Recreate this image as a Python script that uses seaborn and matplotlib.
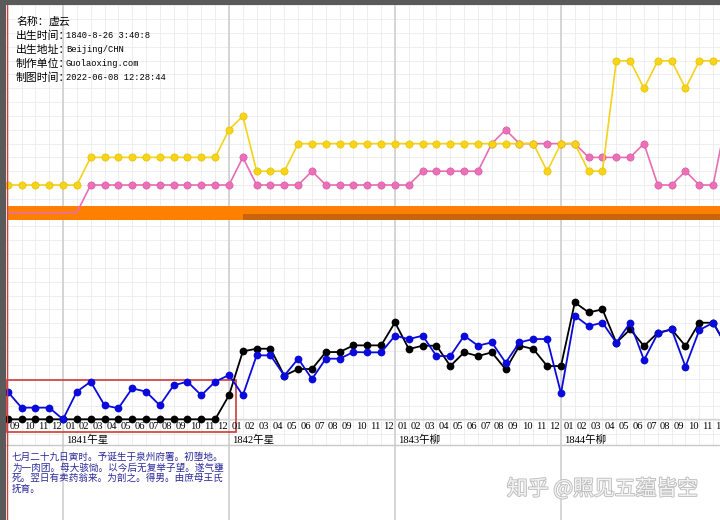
import numpy as np
import pandas as pd
import matplotlib
matplotlib.use("Agg")
import matplotlib.pyplot as plt
import matplotlib.patheffects as pe
from matplotlib.patches import Rectangle
import seaborn as sns

sns.set_theme(style="white")
plt.rcParams["font.family"] = ["Noto Sans CJK SC", "DejaVu Sans"]

# ---------------- data ----------------
month_labels = ["09", "10", "11", "12"] + ["01", "02", "03", "04", "05", "06",
                                           "07", "08", "09", "10", "11", "12"] * 4
year_labels = ["1841午星", "1842午星", "1843午柳", "1844午柳"]
year_index = [4, 16, 28, 40]

yellow = [0, 0, 0, 0, 0, 0,
          2, 2, 2, 2, 2, 2, 2, 2, 2, 2,
          4, 5, 1, 1, 1,
          3, 3, 3, 3, 3, 3, 3, 3, 3, 3, 3, 3, 3, 3, 3, 3, 3, 3,
          1, 3, 3, 1, 1,
          9, 9, 7, 9, 9, 7, 9, 9, 9]
pink = [-2, -2, -2, -2, -2, -2,
        0, 0, 0, 0, 0, 0, 0, 0, 0, 0, 0,
        2, 0, 0, 0, 0, 1,
        0, 0, 0, 0, 0, 0, 0,
        1, 1, 1, 1, 1,
        3, 4, 3, 3, 3, 3, 3,
        2, 2, 2, 2,
        3, 0, 0, 1, 0, 0, 5]
blue = [8.3, 3.5, 3.5, 3.5, 0, 8.3, 11.3, 4.2, 3.3, 9.3,
        8.3, 4.2, 10.2, 11.3, 7.2, 11.3, 13.3, 7.2, 19.2, 19.2,
        13.1, 18.2, 12.1, 18.2, 18.2, 20.2, 20.1, 20.1, 25.1, 24.1,
        25.1, 19.0, 19.0, 25.1, 22.1, 23.1, 17.0, 23.1, 24.1, 24.1,
        7.8, 31.1, 28.0, 29.0, 23.0, 29.0, 17.8, 25.8, 27.0, 15.8,
        26.8, 29.0, 21.7]
black = [0, 0, 0, 0, 0, 0, 0, 0, 0, 0, 0, 0, 0, 0, 0, 0,
         7.2, 20.4, 21.2, 21.2, 13.1, 15.1, 15.1, 20.2, 20.2, 22.2,
         22.2, 22.2, 29.1, 21.1, 22.1, 22.1, 16.0, 20.1, 19.0, 20.1,
         15.0, 22.1, 21.1, 16.0, 16.0, 35.1, 32.1, 33.0, 23.0, 27.0,
         22.0, 26.0, 27.0, 22.0, 29.0, 29.0, 21.7]
idx = np.arange(len(yellow))

# luck-period bands (start index)
band_start = [0, 17]

info_labels = ["名称：", "出生时间：", "出生地址：", "制作单位：", "制图时间："]
info_values = ["虚云", "1840-8-26 3:40:8", "Beijing/CHN", "Guolaoxing.com",
               "2022-06-08 12:28:44"]
note_lines = ["七月二十九日寅时。予诞生于泉州府署。初堕地。",
              "为一肉团。母大骇恸。以今后无复举子望。遂气壅",
              "死。翌日有卖药翁来。为剖之。得男。由庶母王氏",
              "抚育。"]
watermark = "知乎 @照见五蕴皆空"

# ---------------- figure ----------------
W, H = 720, 520
fig = plt.figure(figsize=(7.2, 5.2), dpi=100)
fig.patch.set_facecolor("white")
XL = (-7.67 / 13.833, (720 - 7.67) / 13.833)

# background (grid, year separators) : x in index units, y in pixels
ax_bg = fig.add_axes([0, 0, 1, 1], zorder=0)
ax_bg.set_xlim(*XL)
ax_bg.set_ylim(H, 0)
ax_bg.axis("off")
for gx in np.arange(-1, 53, 1.0):
    ax_bg.plot([gx, gx], [4, 445], color="#ebebeb", lw=0.6, zorder=0)
for gy in np.arange(185 % 13.833, 445, 13.833):
    ax_bg.plot([XL[0], XL[1]], [gy, gy], color="#ebebeb", lw=0.6, zorder=0)
for yi in year_index:
    ax_bg.plot([yi, yi], [4, H], color="#cccccc", lw=1.1, zorder=1)
ax_bg.plot([XL[0], XL[1]], [445, 445], color="#c8c8c8", lw=1.0, zorder=1)

# top panel
ax_top = fig.add_axes([0, 1 - 230 / H, 1, 230 / H], zorder=2)
ax_top.set_xlim(*XL)
ax_top.set_ylim((185 - 230) / 13.8, 185 / 13.8)
ax_top.patch.set_alpha(0)
ax_top.axis("off")
ax_top.fill_between([band_start[0] - 0.03, 60], -2.52, -1.52,
                    facecolor="#ff8000", edgecolor="none", lw=0, zorder=1)
ax_top.fill_between([band_start[1], 60], -2.52, -2.07,
                    facecolor="#c8650c", edgecolor="none", lw=0, zorder=1.5)
sns.lineplot(x=idx, y=pink, ax=ax_top, color="#e86db4", lw=1.2,
             marker="o", markersize=5.2, markerfacecolor="#ec70b8",
             markeredgecolor="#d85ca4", markeredgewidth=0.5,
             markevery=list(range(6, len(pink))), zorder=3)
sns.lineplot(x=idx, y=yellow, ax=ax_top, color="#f5d21c", lw=1.2,
             marker="o", markersize=5.2, markerfacecolor="#f8d418",
             markeredgecolor="#e8c000", markeredgewidth=0.5, zorder=4)

# bottom panel
ax_bot = fig.add_axes([0, 0, 1, 290 / H], zorder=2)
ax_bot.set_xlim(*XL)
ax_bot.set_ylim((419.3 - 520) / 3.33, (419.3 - 230) / 3.33)
ax_bot.patch.set_alpha(0)
ax_bot.axis("off")
ax_bot.axhline(0, color="#d4d4d4", lw=1.0, zorder=1)
ax_bot.add_patch(Rectangle((-0.03, -3.7), 16.53, 15.5, fill=False,
                           edgecolor="#d03a3a", lw=1.2, zorder=2))
sns.lineplot(x=idx, y=black, ax=ax_bot, color="black", lw=1.3,
             marker="o", markersize=5.6, markeredgewidth=0, zorder=3)
sns.lineplot(x=idx, y=blue, ax=ax_bot, color="#0a0adc", lw=1.3,
             marker="o", markersize=5.6, markeredgewidth=0, zorder=4)

for i, lab in enumerate(month_labels):
    ax_bot.text(i + 0.16, -2.16, lab, fontsize=7.6, va="center", ha="left",
                family=["Liberation Serif", "Noto Sans CJK SC"], color="black",
                zorder=5)
for yi, lab in zip(year_index, year_labels):
    ax_bot.text(yi + 0.2, -6.3, lab, fontsize=7.6, va="center", ha="left",
                family=["Liberation Serif", "Noto Sans CJK SC"], color="black")

# overlay in pixel coords: frame & texts
ax_px = fig.add_axes([0, 0, 1, 1], zorder=3)
ax_px.set_xlim(0, W)
ax_px.set_ylim(H, 0)
ax_px.patch.set_alpha(0)
ax_px.axis("off")
ax_px.add_patch(Rectangle((0, 0), 6, H, color="#5a5a5a", lw=0))
ax_px.add_patch(Rectangle((0, 0), W, 4.5, color="#5a5a5a", lw=0))
ax_px.plot([6.6, 6.6], [4.5, H], color="#cc4040", lw=1.0)

for k, (lab, val) in enumerate(zip(info_labels, info_values)):
    yy = 22 + 13.9 * k
    ax_px.text(16, yy, lab, fontsize=7.8, va="center", ha="left", color="black")
    if k == 0:
        ax_px.text(16 + 3 * 10.8, yy, val, fontsize=7.8, va="center",
                   ha="left", color="black")
    else:
        ax_px.text(66, yy, val, fontsize=6.3, va="center", ha="left",
                   family=["Liberation Mono"], color="black")

for k, line in enumerate(note_lines):
    ax_px.text(12, 456.7 + 10.8 * k, line, fontsize=6.9, va="center",
               ha="left", color="#2a2a9a")

ax_px.text(507, 489, watermark, fontsize=15, va="center", ha="left",
           color="#f4f4f4",
           path_effects=[pe.withStroke(linewidth=1.3, foreground="#bdbdbd")])

fig.savefig("out.png", dpi=100)
